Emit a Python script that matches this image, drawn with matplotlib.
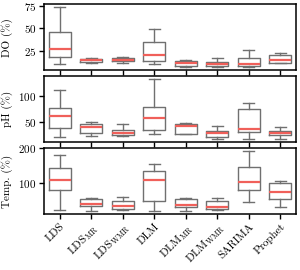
import matplotlib
matplotlib.use("Agg")
import matplotlib.pyplot as plt

plt.rcParams['font.family'] = 'serif'
plt.rcParams['font.serif'] = ['cmr10']
plt.rcParams['mathtext.fontset'] = 'cm'
plt.rcParams['axes.formatter.use_mathtext'] = True
plt.rcParams['font.size'] = 8

# -------------------------------
# Data
# -------------------------------
models = ['LDS', r'LDS$_{\rm MR}$', r'LDS$_{\rm WMR}$', 'DLM', r'DLM$_{\rm MR}$',
          r'DLM$_{\rm WMR}$', 'SARIMA', 'Prophet']

# DO (%)
do_whislo = [10.3, 11.8, 11.5, 10.3, 7.0, 7.4, 7.4, 12.0]
do_q1 = [18.4, 13.2, 13.6, 14.0, 7.7, 8.5, 7.7, 12.1]
do_med = [27.5, 15.0, 15.4, 20.6, 11.5, 11.0, 11.0, 15.0]
do_q3 = [46.3, 16.5, 17.0, 34.9, 14.0, 13.2, 17.0, 20.3]
do_whishi = [73.7, 17.6, 18.4, 49.6, 15.0, 17.6, 26.4, 22.5]

# pH (%)
ph_whislo = [18.6, 22.0, 21.6, 26.0, 26.0, 16.0, 16.0, 15.2]
ph_q1 = [37.2, 28.0, 22.6, 34.0, 26.0, 19.2, 29.2, 24.0]
ph_med = [61.2, 39.2, 28.0, 58.0, 40.6, 27.2, 36.0, 27.2]
ph_q3 = [76.6, 46.0, 34.0, 79.0, 45.2, 32.0, 75.2, 31.2]
ph_whishi = [112.6, 50.0, 44.6, 134.6, 47.0, 40.6, 87.2, 38.6]

# Temp. (%)
tp_whislo = [21.5, 18.5, 19.4, 18.5, 17.6, 19.4, 43.0, 28.3]
tp_q1 = [79.4, 32.4, 23.5, 48.0, 29.4, 23.5, 77.4, 53.8]
tp_med = [108.8, 37.0, 32.4, 108.8, 36.0, 28.3, 101.0, 71.5]
tp_q3 = [142.0, 52.0, 46.0, 133.0, 52.0, 46.0, 144.0, 98.0]
tp_whishi = [181.0, 56.0, 59.0, 154.7, 56.0, 56.0, 191.0, 104.7]

panels = [
    ('DO (%)', do_whislo, do_q1, do_med, do_q3, do_whishi, [25, 50, 75]),
    ('pH (%)', ph_whislo, ph_q1, ph_med, ph_q3, ph_whishi, [50, 100]),
    ('Temp. (%)', tp_whislo, tp_q1, tp_med, tp_q3, tp_whishi, [100, 200]),
]

box_color = '#707070'
med_color = '#f0605a'

fig, axes = plt.subplots(3, 1, figsize=(3.0, 2.7), dpi=100, sharex=True)
fig.subplots_adjust(left=0.147, right=0.987, top=0.985, bottom=0.207, hspace=0.09)

for ax, (label, lo, q1, med, q3, hi, ticks) in zip(axes, panels):
    stats = []
    for i in range(len(models)):
        stats.append(dict(whislo=lo[i], q1=q1[i], med=med[i], q3=q3[i],
                          whishi=hi[i], fliers=[], label=models[i]))
    ax.bxp(stats, widths=0.7, showfliers=False,
           boxprops=dict(color=box_color, linewidth=1.0),
           whiskerprops=dict(color=box_color, linewidth=1.0),
           capprops=dict(color=box_color, linewidth=1.0),
           medianprops=dict(color=med_color, linewidth=1.6))
    ax.set_ylabel(label)
    ax.set_yticks(ticks)
    for sp in ax.spines.values():
        sp.set_linewidth(1.1)
    ax.tick_params(direction='out', length=3.5, width=1.0, pad=2)

axes[-1].set_xticks(range(1, len(models) + 1))
axes[-1].set_xticklabels(models, rotation=45, ha='right', rotation_mode='anchor')
fig.align_ylabels(axes)

fig.savefig('out.png', dpi=100)
